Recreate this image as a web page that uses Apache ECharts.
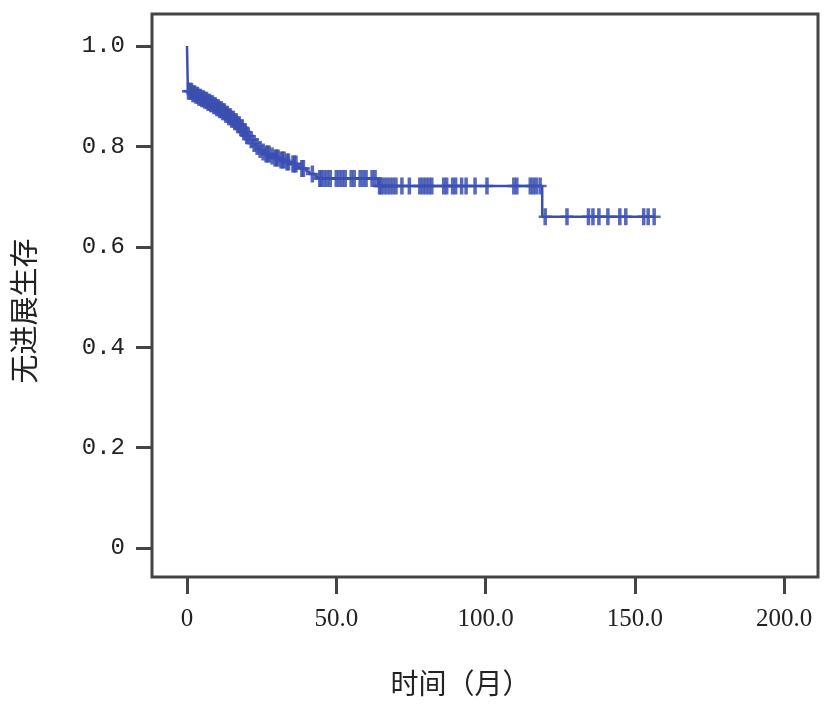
<!DOCTYPE html>
<html>
<head>
<meta charset="utf-8">
<script src="https://cdn.jsdelivr.net/npm/echarts@6/dist/echarts.min.js"></script>
<style>html,body{margin:0;padding:0;background:#fff;}#c{width:827px;height:720px;}</style>
</head>
<body>
<div id="c"></div>
<script>
// Kaplan-Meier step curve: event times (months) and survival after each event
var eventTimes = [0, 0.3, 2, 3, 4, 5, 6, 7, 8, 9, 10, 11, 12, 13, 14, 15, 16, 17, 18, 19, 20, 21, 22, 23, 24, 25, 26, 28, 29, 31, 33, 35, 37, 38, 40, 41, 43, 44, 64, 119, 157];
var survival   = [1.0, 0.91, 0.905, 0.902, 0.898, 0.895, 0.892, 0.888, 0.885, 0.881, 0.877, 0.873, 0.869, 0.864, 0.859, 0.854, 0.849, 0.843, 0.837, 0.829, 0.821, 0.813, 0.806, 0.800, 0.794, 0.789, 0.785, 0.781, 0.777, 0.773, 0.769, 0.765, 0.760, 0.756, 0.750, 0.745, 0.740, 0.736, 0.721, 0.660, 0.660];
// censored observations (months)
var censorTimes = [0.5, 1, 1.5, 2, 2.5, 3, 3.5, 4, 4.5, 5, 5.5, 6, 6.5, 7, 7.5, 8, 8.5, 9, 9.5, 10, 10.5, 11, 11.5, 12, 12.5, 13, 13.5, 14, 14.5, 15, 15.5, 16, 16.5, 17, 17.5, 18, 18.5, 19, 19.5, 20, 20.5, 21.5, 22.5, 23.5, 24.5, 25.5, 26.5, 27, 27.5, 28.5, 29.5, 30, 30.5, 31.5, 32, 32.5, 33.5, 34, 35.5, 36, 36.5, 38.5, 39, 42, 44.5, 45, 46, 47, 48, 50, 51, 52, 53, 55, 56, 58, 59, 60, 62, 63,
  64.5, 65, 66, 67, 68, 69, 70, 72, 74.5, 78, 79, 80, 81, 82, 86, 87, 89, 90, 92, 93.5, 96.5, 100.5, 109.5, 110.5, 115, 116, 117, 118.3,
  120, 127.3, 134.5, 136, 138, 141, 145, 147, 153, 154.5, 156.5];
var xTicks = [0, 50, 100, 150, 200];
var yTicks = [0, 0.2, 0.4, 0.6, 0.8, 1.0];

function survAt(t) {
  var s = survival[0];
  for (var i = 0; i < eventTimes.length; i++) { if (eventTimes[i] <= t) s = survival[i]; }
  return s;
}
var curve = eventTimes.map(function (t, i) { return [t, survival[i]]; });
var censors = censorTimes.map(function (t) { return [t, survAt(t)]; });

var blue = '#3a4fb0';
var chart = echarts.init(document.getElementById('c'), null, {renderer: 'canvas'});
chart.setOption({
  backgroundColor: '#ffffff',
  animation: false,
  grid: {left: 187, right: 43, top: 46, bottom: 172, containLabel: false, outerBoundsMode: 'none'},
  xAxis: {
    type: 'value', min: xTicks[0], max: xTicks[xTicks.length - 1], interval: 50,
    position: 'bottom', offset: 29,
    axisLine: {show: false, onZero: false},
    axisTick: {show: true, length: 17, lineStyle: {color: '#444', width: 3}},
    axisLabel: {margin: 30, color: '#222', fontFamily: 'Liberation Serif', fontSize: 25,
      formatter: function (v) { return v === 0 ? '0' : v.toFixed(1); }},
    splitLine: {show: false},
    name: '时间（月）', nameLocation: 'middle', nameGap: 92,
    nameTextStyle: {fontFamily: 'Noto Sans CJK SC', fontSize: 28, color: '#222', padding: [0, 50, 0, 0]}
  },
  yAxis: {
    type: 'value', min: yTicks[0], max: yTicks[yTicks.length - 1], interval: 0.2,
    position: 'left', offset: 35,
    axisLine: {show: false, onZero: false},
    axisTick: {show: true, length: 16, lineStyle: {color: '#444', width: 3}},
    axisLabel: {margin: 27, color: '#222', fontFamily: 'Liberation Mono', fontSize: 24,
      formatter: function (v) { return v === 0 ? '0' : v.toFixed(1); }},
    splitLine: {show: false},
    name: '无进展生存', nameLocation: 'middle', nameGap: 114, nameRotate: 90,
    nameTextStyle: {fontFamily: 'Noto Sans CJK SC', fontSize: 29, color: '#222', padding: [0, 28, 0, 0]}
  },
  graphic: [{
    type: 'rect', silent: true, z: 10,
    shape: {x: 152, y: 14, width: 666, height: 563},
    style: {fill: null, stroke: '#444', lineWidth: 3}
  }],
  series: [{
    type: 'line', data: curve, step: 'end', showSymbol: false, clip: false,
    lineStyle: {color: blue, width: 2.5}
  }, {
    type: 'scatter', data: censors, clip: false,
    symbol: 'path://M4,0 H7 V14 H4 Z M0,6 H11 V8 H0 Z',
    symbolSize: [13, 17],
    itemStyle: {color: blue, opacity: 0.85}
  }]
});
</script>
</body>
</html>
